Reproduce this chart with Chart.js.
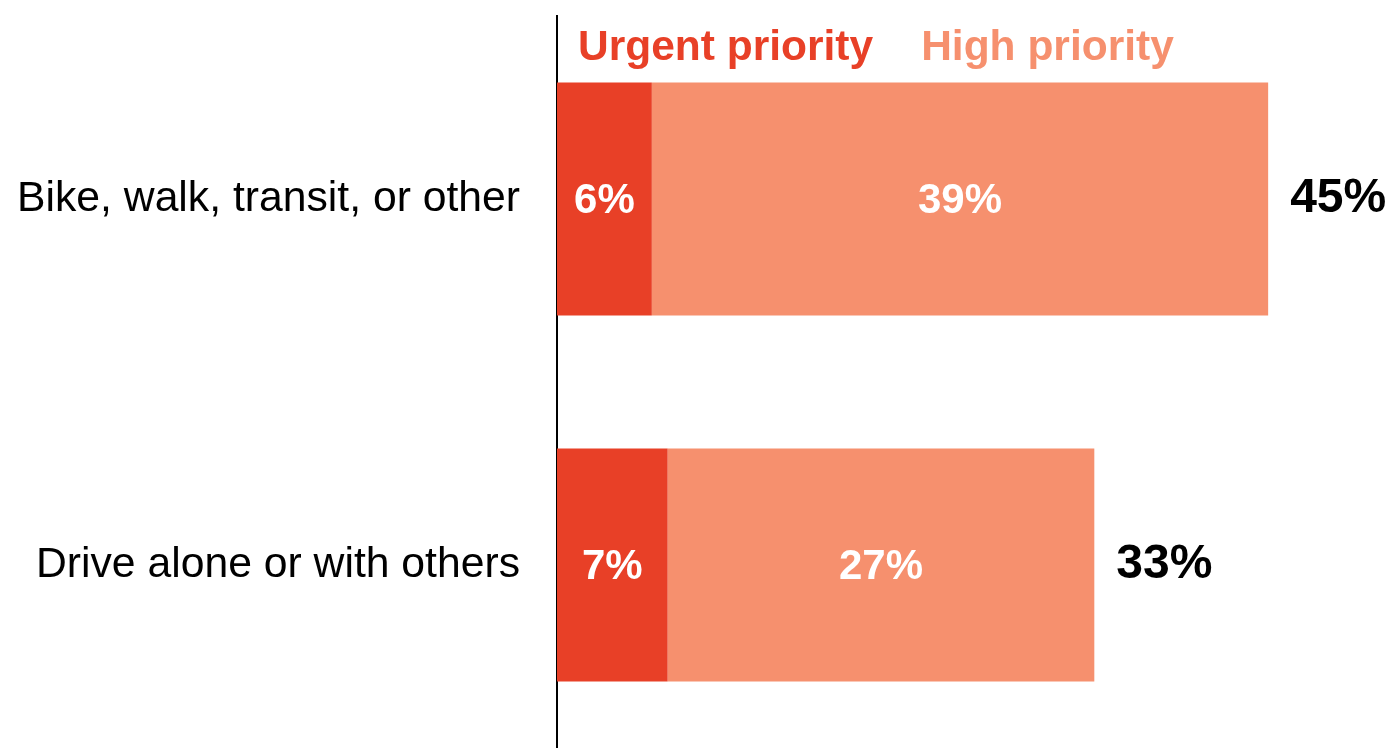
<!DOCTYPE html>
<html>
<head>
<meta charset="utf-8">
<script src="https://cdn.jsdelivr.net/npm/chart.js@4"></script>
<style>
  body { margin: 0; background: #fff; }
  #wrap { width: 1393px; height: 748px; position: relative; }
</style>
</head>
<body>
<div id="wrap"><canvas id="chart"></canvas></div>
<script>
const categories = ["Bike, walk, transit, or other", "Drive alone or with others"];
const urgentValues = [6, 7];
const highValues = [39, 27];
const totalLabels = ["45%", "33%"];
const seriesNames = ["Urgent priority", "High priority"];

const FONT = "'Liberation Sans', Arial, sans-serif";

// legend text, values inside bars and totals at the bar ends
const labelPlugin = {
    id: "labels",
    afterDatasetsDraw(chart) {
        const ctx = chart.ctx;
        const area = chart.chartArea;
        ctx.save();

        ctx.font = "bold 42.5px " + FONT;
        ctx.textBaseline = "alphabetic";
        ctx.textAlign = "left";
        let x = area.left + 21;
        chart.data.datasets.forEach(ds => {
            ctx.fillStyle = ds.backgroundColor;
            ctx.fillText(ds.label, x, 60);
            x += ctx.measureText(ds.label).width + 48;
        });

        ctx.fillStyle = "#fff";
        ctx.font = "bold 42px " + FONT;
        ctx.textAlign = "center";
        ctx.textBaseline = "middle";
        chart.data.datasets.forEach((ds, i) => {
            chart.getDatasetMeta(i).data.forEach((bar, j) => {
                ctx.fillText(ds.data[j] + "%", (bar.x + bar.base) / 2, bar.y + 2);
            });
        });

        const last = chart.getDatasetMeta(chart.data.datasets.length - 1).data;
        ctx.fillStyle = "#000";
        ctx.font = "bold 48px " + FONT;
        ctx.textAlign = "left";
        last.forEach((bar, j) => {
            ctx.fillText(totalLabels[j], bar.x + 22, bar.y);
        });
        ctx.restore();
    }
};

new Chart(document.getElementById("chart"), {
    type: "bar",
    data: {
        labels: categories,
        datasets: [
            { label: seriesNames[0], data: urgentValues, backgroundColor: "#E84027" },
            { label: seriesNames[1], data: highValues, backgroundColor: "#F6906E" }
        ]
    },
    options: {
        indexAxis: "y",
        responsive: true,
        maintainAspectRatio: false,
        animation: false,
        layout: { padding: { top: 16, bottom: 0, left: 0, right: 0 } },
        datasets: { bar: { categoryPercentage: 1, barPercentage: 0.637, borderWidth: 0 } },
        plugins: {
            legend: { display: false },
            tooltip: { enabled: false }
        },
        scales: {
            x: { stacked: true, display: false, min: 0, max: 52.9 },
            y: {
                stacked: true,
                // negative tick padding keeps the label box from pushing the chart area in
                grid: { display: false, drawTicks: true, tickLength: 52 },
                border: { display: true, color: "#000", width: 2 },
                ticks: { color: "#000", font: { family: FONT, size: 42.7, lineHeight: 0.5 }, padding: -15 },
                afterFit: axis => { axis.width = 557; }
            }
        }
    },
    plugins: [labelPlugin]
});
</script>
</body>
</html>
